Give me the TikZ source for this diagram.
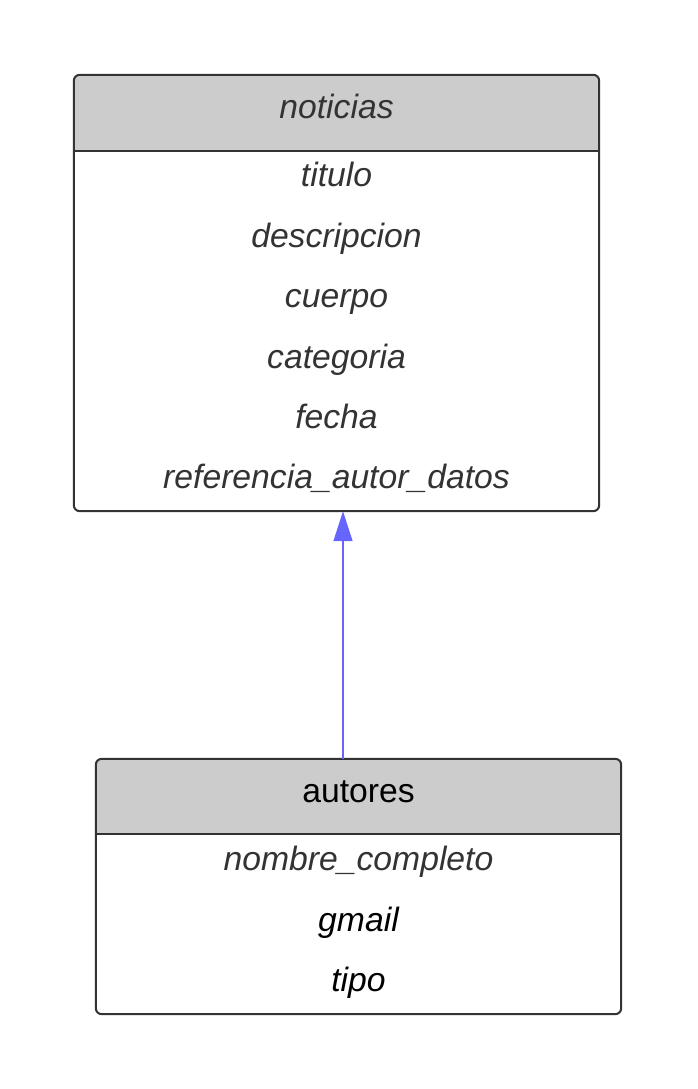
\documentclass[tikz,border=0pt]{standalone}
\usepackage{fontspec}
\setmainfont{Liberation Sans}
\usetikzlibrary{positioning,arrows.meta,calc}
\definecolor{tabgray}{HTML}{CCCCCC}
\definecolor{tabline}{HTML}{333333}
\definecolor{linkblue}{HTML}{6666FF}

\begin{document}
\begin{tikzpicture}[x=1pt,y=-1pt, >={Triangle[length=30pt,width=19pt]},
    every node/.style={font=\fontsize{33.7}{40}\selectfont,text height=26pt,text depth=4pt},
    tabbox/.style={minimum width=525pt,inner sep=0pt,text height=,text depth=},
    attr/.style={text=tabline,font=\fontsize{33.7}{40}\selectfont\itshape,minimum height=60pt,inner sep=0pt}]
  \useasboundingbox (0,0) rectangle (698,1089);
  % tabla noticias
  \node[tabbox,minimum height=436pt] (noticias) at (336.5,293) {};
  \begin{scope}
    \clip (noticias.north west) rectangle ($(noticias.north east)+(0,76)$);
    \fill[tabgray,rounded corners=6pt] (noticias.north west) rectangle (noticias.south east);
  \end{scope}
  \draw[tabline,line width=1.5pt] ($(noticias.north west)+(0,76)$) -- ($(noticias.north east)+(0,76)$);
  \draw[tabline,line width=2pt,rounded corners=6pt] (noticias.north west) rectangle (noticias.south east);
  \node[attr] (noticiasHead) at ($(noticias.north)+(0,33)$) {noticias};
  \node[attr] (titulo) at ($(noticias.north)+(0,101)$) {titulo};
  \node[attr,below=0pt of titulo] (descripcion) {descripcion};
  \node[attr,below=0pt of descripcion] (cuerpo) {cuerpo};
  \node[attr,below=0pt of cuerpo] (categoria) {categoria};
  \node[attr,below=0pt of categoria] (fecha) {fecha};
  \node[attr,below=0pt of fecha] (referencia) {referencia\_autor\_datos};
  % tabla autores
  \node[tabbox,minimum height=255pt] (autores) at (358.5,886.5) {};
  \begin{scope}
    \clip (autores.north west) rectangle ($(autores.north east)+(0,75)$);
    \fill[tabgray,rounded corners=6pt] (autores.north west) rectangle (autores.south east);
  \end{scope}
  \draw[tabline,line width=1.5pt] ($(autores.north west)+(0,75)$) -- ($(autores.north east)+(0,75)$);
  \draw[tabline,line width=2pt,rounded corners=6pt] (autores.north west) rectangle (autores.south east);
  \node[inner sep=0pt] (autoresHead) at ($(autores.north)+(0,33)$) {autores};
  \node[attr] (nombre) at ($(autores.north)+(0,101)$) {nombre\_completo};
  \node[attr,text=black,below=0pt of nombre] (gmail) {gmail};
  \node[attr,text=black,below=0pt of gmail] (tipo) {tipo};
  % relacion
  \coordinate (linkx) at (343,0);
  \draw[->,linkblue,line width=1.5pt] (autores.north -| linkx) -- (noticias.south -| linkx);
\end{tikzpicture}
\end{document}
